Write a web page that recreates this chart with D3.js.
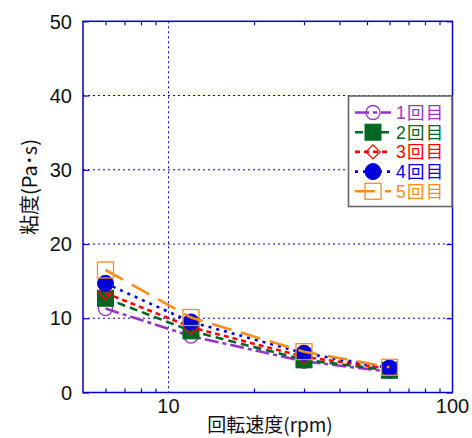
<!DOCTYPE html>
<html><head><meta charset="utf-8">
<script src="https://cdn.jsdelivr.net/npm/d3@7"></script>
<style>
html,body{margin:0;padding:0;background:#fff;}
svg{display:block;}
text{font-family:Arial,"Liberation Sans","Noto Sans CJK JP",sans-serif;}
</style></head><body>
<svg id="chart" width="472" height="438"></svg>
<script>
const rpm = [6, 12, 30, 60];
const seriesNames = ["1回目", "2回目", "3回目", "4回目", "5回目"];
const run1 = [11.3, 7.6, 4.2, 2.8];
const run2 = [12.7, 8.3, 4.4, 3.0];
const run3 = [13.4, 8.8, 4.8, 3.2];
const run4 = [14.7, 9.5, 5.3, 3.3];
const run5 = [16.5, 10.1, 5.5, 3.4];
const yTicks = [0, 10, 20, 30, 40, 50];
const xTicks = [10, 100];
const xMinor = [6, 7, 8, 9, 20, 30, 40, 50, 60, 70, 80, 90];

const colors = ["#9933cc", "#006622", "#ff0000", "#0000dd", "#ff8c1a"];
const dashes = ["14,4,4,4", "8,5", "5,4", "3,5", "20,10"];
const markers = ["circleOpen", "squareFilled", "diamondOpen", "circleFilled", "squareOpen"];
const values = [run1, run2, run3, run4, run5];

const svg = d3.select("#chart");
const L = 83, R = 452.5, T = 21.3, B = 392.5;
const x = d3.scaleLog().domain([5, 100]).range([L, R]);
const y = d3.scaleLinear().domain([0, 50]).range([B, T]);
const axisColor = "#0000cc";

// grid
svg.append("g").selectAll("line").data(yTicks.filter(d => d > 0 && d < 50)).join("line")
  .attr("x1", L).attr("x2", R).attr("y1", d => y(d)).attr("y2", d => y(d))
  .attr("stroke", axisColor).attr("stroke-width", 1).attr("stroke-dasharray", "2,3");
svg.append("g").selectAll("line").data([10]).join("line")
  .attr("x1", d => x(d)).attr("x2", d => x(d)).attr("y1", T).attr("y2", B)
  .attr("stroke", axisColor).attr("stroke-width", 1).attr("stroke-dasharray", "2,3");

// axes (ticks inside)
const gL = svg.append("g").attr("transform", `translate(${L},0)`)
  .call(d3.axisRight(y).tickValues(yTicks).tickSize(6).tickFormat(""));
const gR = svg.append("g").attr("transform", `translate(${R},0)`)
  .call(d3.axisLeft(y).tickValues(yTicks).tickSize(6).tickFormat(""));
const gB = svg.append("g").attr("transform", `translate(0,${B})`)
  .call(d3.axisTop(x).tickValues(xMinor).tickSize(4).tickFormat(""));
const gT = svg.append("g").attr("transform", `translate(0,${T})`)
  .call(d3.axisBottom(x).tickValues(xMinor).tickSize(4).tickFormat(""));
[gL, gR, gB, gT].forEach(g => {
  g.select(".domain").remove();
  g.selectAll("line").attr("stroke", axisColor).attr("stroke-width", 1.2);
});
svg.append("rect").attr("x", L).attr("y", T).attr("width", R - L).attr("height", B - T)
  .attr("fill", "none").attr("stroke", axisColor).attr("stroke-width", 1.5);

// tick labels
svg.append("g").selectAll("text").data(yTicks).join("text")
  .attr("x", 72).attr("y", d => y(d)).attr("dy", "0.36em")
  .attr("text-anchor", "end").attr("font-size", 20).attr("fill", "#111")
  .text(d => d);
svg.append("g").selectAll("text").data(xTicks).join("text")
  .attr("x", d => x(d)).attr("y", 413)
  .attr("text-anchor", "middle").attr("font-size", 20).attr("fill", "#111")
  .text(d => d);

// titles
svg.append("text").attr("x", 270).attr("y", 432).attr("text-anchor", "middle")
  .attr("font-size", 19).attr("fill", "#111")
  .style("font-family", "'Noto Sans CJK JP',sans-serif").text("回転速度(rpm)");
svg.append("text").attr("transform", "translate(37,187) rotate(-90)").attr("text-anchor", "middle")
  .attr("font-size", 20).attr("fill", "#111")
  .style("font-family", "'Noto Sans CJK JP',sans-serif").text("粘度(Pa\uFF65s)");

function drawMarker(g, type, cx, cy, color) {
  if (type === "circleOpen") {
    g.append("circle").attr("cx", cx).attr("cy", cy).attr("r", 7)
      .attr("fill", "none").attr("stroke", color).attr("stroke-width", 1.3);
  } else if (type === "circleFilled") {
    g.append("circle").attr("cx", cx).attr("cy", cy).attr("r", 8)
      .attr("fill", color).attr("stroke", color).attr("stroke-width", 1);
  } else if (type === "squareFilled") {
    g.append("rect").attr("x", cx - 8).attr("y", cy - 8).attr("width", 16).attr("height", 16)
      .attr("fill", color).attr("stroke", color).attr("stroke-width", 1);
  } else if (type === "squareOpen") {
    g.append("rect").attr("x", cx - 8).attr("y", cy - 8).attr("width", 16).attr("height", 16)
      .attr("fill", "none").attr("stroke", color).attr("stroke-width", 1.3);
  } else if (type === "diamondOpen") {
    g.append("path").attr("d", `M${cx},${cy - 7}L${cx + 7},${cy}L${cx},${cy + 7}L${cx - 7},${cy}Z`)
      .attr("fill", "none").attr("stroke", color).attr("stroke-width", 1.3);
  }
}

const line = d3.line().x(d => x(d[0])).y(d => y(d[1]));
values.forEach((vals, i) => {
  const g = svg.append("g");
  const pts = rpm.map((r, j) => [r, vals[j]]);
  g.append("path").attr("d", line(pts)).attr("fill", "none")
    .attr("stroke", colors[i]).attr("stroke-width", 2.6).attr("stroke-dasharray", dashes[i]);
  pts.forEach(p => drawMarker(g, markers[i], x(p[0]), y(p[1]), colors[i]));
});

// legend
const lg = svg.append("g");
lg.append("rect").attr("x", 348.5).attr("y", 96).attr("width", 103.5).attr("height", 110.5)
  .attr("fill", "#fff").attr("stroke", "#666").attr("stroke-width", 1.6);
seriesNames.forEach((name, i) => {
  const ry = 112.5 + i * 19.7;
  lg.append("line").attr("x1", 355).attr("x2", 391).attr("y1", ry).attr("y2", ry)
    .attr("stroke", colors[i]).attr("stroke-width", 2.6).attr("stroke-dasharray", dashes[i]);
  drawMarker(lg, markers[i], 373, ry, colors[i]);
  lg.append("text").attr("x", 396).attr("y", ry).attr("dy", "0.36em")
    .attr("font-size", 17.5).attr("letter-spacing", 1.2).attr("fill", colors[i])
    .style("font-family", "Arial,'Liberation Sans','Noto Sans CJK JP',sans-serif").text(name);
});
</script>
</body></html>
